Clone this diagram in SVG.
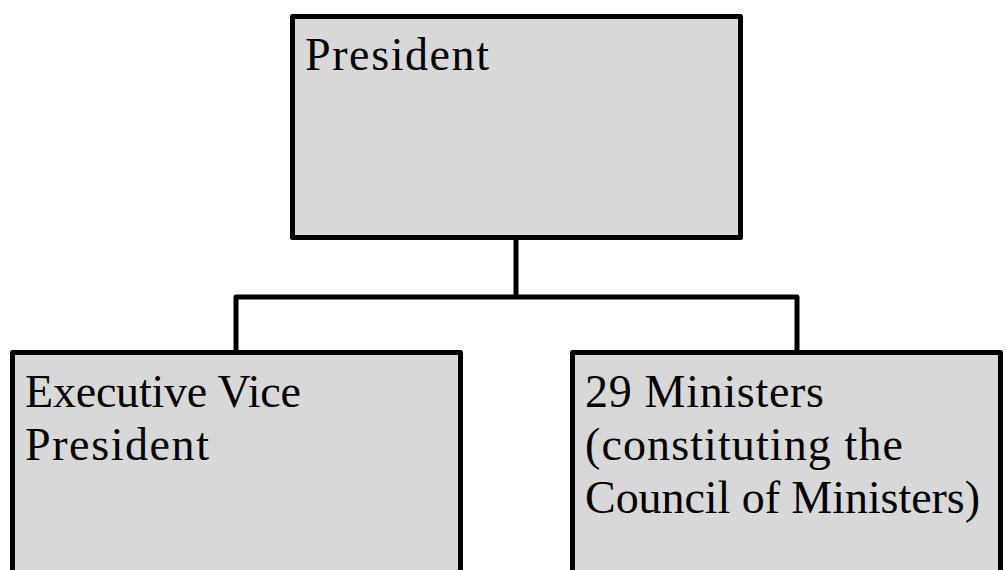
<svg xmlns="http://www.w3.org/2000/svg" width="1006" height="570" viewBox="0 0 1006 570">
<style>
.box{fill:#d8d8d8;stroke:#000;stroke-width:5;stroke-linejoin:round}
.lbl{font-family:"Liberation Serif","DejaVu Serif",serif;font-size:46px;fill:#000}
.conn{fill:none;stroke:#000;stroke-width:5;stroke-linejoin:round}
</style>
<rect width="1006" height="570" fill="#fff"/>
<g id="connectors">
<path class="conn" d="M516 238 V297"/>
<path class="conn" d="M236 352 V297 H797 V352"/>
</g>
<g id="president">
<rect class="box" x="292.5" y="16.5" width="448" height="221"/>
<text class="lbl" x="305" y="70" textLength="184" lengthAdjust="spacing">President</text>
</g>
<g id="evp">
<rect class="box" x="12.5" y="352.5" width="448" height="240"/>
<text class="lbl" x="25" y="407" textLength="276" lengthAdjust="spacing">Executive Vice</text>
<text class="lbl" x="25" y="460" textLength="184" lengthAdjust="spacing">President</text>
</g>
<g id="ministers">
<rect class="box" x="572.5" y="352.5" width="428" height="240"/>
<text class="lbl" x="585" y="407" textLength="239" lengthAdjust="spacing">29 Ministers</text>
<text class="lbl" x="585" y="460" textLength="318" lengthAdjust="spacing">(constituting the</text>
<text class="lbl" x="585" y="513" textLength="395" lengthAdjust="spacing">Council of Ministers)</text>
</g>
</svg>
